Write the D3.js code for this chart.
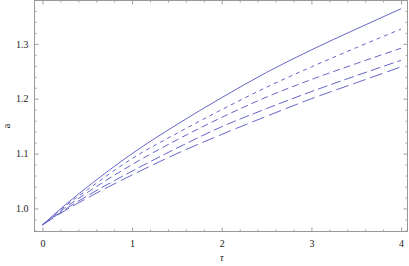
<!DOCTYPE html>
<html>
<head>
<meta charset="utf-8">
<script src="https://cdn.jsdelivr.net/npm/d3@7"></script>
<style>
  body { margin: 0; background: #fff; }
  text { font-family: "Liberation Serif", "DejaVu Serif", serif; font-size: 10px; fill: #222; }
</style>
</head>
<body>
<div class="chart_area"></div>
<script>
// tau sample points and curve values a(tau)
var tau = [0, 0.25, 0.5, 1, 1.5, 2, 2.5, 3, 3.5, 4];
var a_solid = [0.970, 1.006, 1.039, 1.100, 1.153, 1.202, 1.248, 1.289, 1.327, 1.364];
var a_dash1 = [0.970, 1.004, 1.034, 1.091, 1.137, 1.180, 1.221, 1.258, 1.293, 1.327];
var a_dash2 = [0.970, 1.001, 1.029, 1.080, 1.125, 1.166, 1.203, 1.235, 1.264, 1.292];
var a_dash3 = [0.970, 0.998, 1.023, 1.068, 1.110, 1.149, 1.182, 1.213, 1.242, 1.270];
var a_dash4 = [0.970, 0.996, 1.019, 1.061, 1.100, 1.135, 1.168, 1.200, 1.229, 1.258];

var series = [a_solid, a_dash1, a_dash2, a_dash3, a_dash4];
var dashes = [null, "4,4", "7,4", "10,4", "13,5"];

var xTicks = [0, 1, 2, 3, 4];
var yTicks = [1.0, 1.1, 1.2, 1.3];

var width = 409, height = 266;
var frame = { left: 34.5, right: 407.5, top: 0.5, bottom: 231.5 };

var svg = d3.select(".chart_area")
    .append("svg")
    .attr("width", width)
    .attr("height", height);

var x = d3.scaleLinear().domain([-0.089, 4.072]).range([frame.left, frame.right]);
var y = d3.scaleLinear().domain([0.958, 1.379]).range([frame.bottom, frame.top]);

var xMinor = d3.range(-0.0, 4.01, 0.2).filter(function(d){ return Math.abs(d - Math.round(d)) > 1e-6; });
var yMinor = d3.range(0.96, 1.38, 0.02).filter(function(d){ return Math.abs(d*10 - Math.round(d*10)) > 1e-6; });

function styleAxis(g) {
    g.select(".domain").remove();
    g.selectAll(".tick line").attr("stroke", "#888").attr("stroke-width", 0.8);
}

// major ticks with labels
svg.append("g")
    .attr("transform", "translate(0," + frame.bottom + ")")
    .call(d3.axisBottom(x).tickValues(xTicks).tickSize(-4).tickPadding(8).tickFormat(d3.format("d")))
    .call(styleAxis);
svg.append("g")
    .attr("transform", "translate(" + frame.left + ",0)")
    .call(d3.axisLeft(y).tickValues(yTicks).tickSize(-4).tickPadding(6).tickFormat(d3.format(".1f")))
    .call(styleAxis);
// top / right major ticks, no labels
svg.append("g")
    .attr("transform", "translate(0," + frame.top + ")")
    .call(d3.axisTop(x).tickValues(xTicks).tickSize(-4).tickFormat(""))
    .call(styleAxis);
svg.append("g")
    .attr("transform", "translate(" + frame.right + ",0)")
    .call(d3.axisRight(y).tickValues(yTicks).tickSize(-4).tickFormat(""))
    .call(styleAxis);

// minor ticks all round
[[d3.axisBottom(x), xMinor, "translate(0," + frame.bottom + ")"],
 [d3.axisTop(x), xMinor, "translate(0," + frame.top + ")"],
 [d3.axisLeft(y), yMinor, "translate(" + frame.left + ",0)"],
 [d3.axisRight(y), yMinor, "translate(" + frame.right + ",0)"]].forEach(function(a){
    svg.append("g")
        .attr("transform", a[2])
        .call(a[0].tickValues(a[1]).tickSize(-2).tickFormat(""))
        .call(styleAxis);
});

// frame
svg.append("rect")
    .attr("x", frame.left).attr("y", frame.top)
    .attr("width", frame.right - frame.left)
    .attr("height", frame.bottom - frame.top)
    .attr("fill", "none")
    .attr("stroke", "#999")
    .attr("stroke-width", 1);

// curves
var line = d3.line()
    .x(function(d, i){ return x(tau[i]); })
    .y(function(d){ return y(d); })
    .curve(d3.curveMonotoneX);

svg.append("g")
    .selectAll("path")
    .data(series)
    .enter()
    .append("path")
    .attr("d", line)
    .attr("fill", "none")
    .attr("stroke", "#6666c8")
    .attr("stroke-width", 1)
    .attr("stroke-dasharray", function(d, i){ return dashes[i]; });

// axis labels
svg.append("text")
    .attr("x", x(2))
    .attr("y", 261)
    .attr("text-anchor", "middle")
    .style("font-style", "italic")
    .text("τ");
svg.append("text")
    .attr("transform", "translate(10," + y(1.15) + ") rotate(-90)")
    .attr("text-anchor", "middle")
    .text("a");
</script>
</body>
</html>
